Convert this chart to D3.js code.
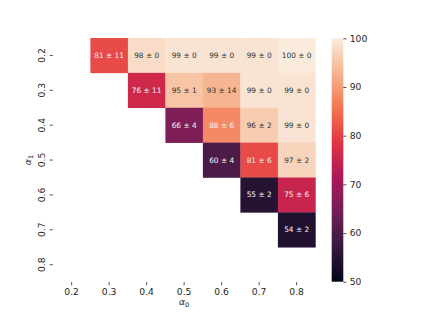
<!DOCTYPE html>
<html lang="en">
<head>
<meta charset="utf-8">
<title>alpha heatmap</title>
<script src="https://cdn.jsdelivr.net/npm/d3@7"></script>
<style>
  body { margin: 0; background: #fff; }
  text { font-family: "DejaVu Sans", sans-serif; fill: #262626; }
</style>
</head>
<body>
<script>
var w = 423, h = 317;

// data
var alpha0 = ["0.2", "0.3", "0.4", "0.5", "0.6", "0.7", "0.8"];
var alpha1 = ["0.2", "0.3", "0.4", "0.5", "0.6", "0.7", "0.8"];
var means = [
  [null, 81, 98, 99, 99, 99, 100],
  [null, null, 76, 95, 93, 99, 99],
  [null, null, null, 66, 88, 96, 99],
  [null, null, null, null, 60, 81, 97],
  [null, null, null, null, null, 55, 75],
  [null, null, null, null, null, null, 54],
  [null, null, null, null, null, null, null]
];
var stds = [
  [null, 11, 0, 0, 0, 0, 0],
  [null, null, 11, 1, 14, 0, 0],
  [null, null, null, 4, 6, 2, 0],
  [null, null, null, null, 4, 6, 2],
  [null, null, null, null, null, 2, 6],
  [null, null, null, null, null, null, 2],
  [null, null, null, null, null, null, null]
];
var cbTicks = [50, 60, 70, 80, 90, 100];

// rocket-ish colormap
var rocketStops = ["#03051a", "#35193e", "#701f57", "#ad1759", "#e13342", "#f37651", "#f6b48f", "#faebdd"];
var color = d3.scaleLinear()
  .domain(rocketStops.map(function(d, i) { return 50 + 50 * i / (rocketStops.length - 1); }))
  .range(rocketStops)
  .interpolate(d3.interpolateRgb)
  .clamp(true);

var mLeft = 52.9, mRight = 315.4, mTop = 38, mBottom = 282.1;

var x = d3.scaleBand().domain(alpha0).range([mLeft, mRight]);
var y = d3.scaleBand().domain(alpha1).range([mTop, mBottom]);

var svg = d3.select("body").append("svg")
  .attr("width", w)
  .attr("height", h);

var cells = [];
means.forEach(function(row, i) {
  row.forEach(function(v, j) {
    if (v !== null) cells.push({ r: alpha1[i], c: alpha0[j], v: v, s: stds[i][j] });
  });
});

svg.selectAll("rect.cell")
  .data(cells)
  .enter()
  .append("rect")
  .attr("class", "cell")
  .attr("x", function(d) { return x(d.c); })
  .attr("y", function(d) { return y(d.r); })
  .attr("width", x.bandwidth() + 0.3)
  .attr("height", y.bandwidth() + 0.3)
  .attr("fill", function(d) { return color(d.v); });

function lum(c) {
  var rgb = d3.rgb(c);
  var f = function(u) { u = u / 255; return u <= 0.03928 ? u / 12.92 : Math.pow((u + 0.055) / 1.055, 2.4); };
  return 0.2126 * f(rgb.r) + 0.7152 * f(rgb.g) + 0.0722 * f(rgb.b);
}

svg.selectAll("text.annot")
  .data(cells)
  .enter()
  .append("text")
  .attr("class", "annot")
  .attr("x", function(d) { return x(d.c) + x.bandwidth() / 2; })
  .attr("y", function(d) { return y(d.r) + y.bandwidth() / 2; })
  .attr("text-anchor", "middle")
  .attr("dominant-baseline", "central")
  .style("font-size", "7.4px")
  .style("fill", function(d) { return lum(color(d.v)) > 0.408 ? "#333333" : "#f4f4f4"; })
  .text(function(d) { return d.v + " \u00b1 " + d.s; });

// x axis
var xAxis = d3.axisBottom(x).tickSize(3.2).tickPadding(3.2);
var gx = svg.append("g").attr("transform", "translate(0," + mBottom + ")").call(xAxis);
gx.select(".domain").remove();
gx.selectAll("line").attr("stroke", "#262626").attr("stroke-width", 0.8);
gx.selectAll("text").style("font-size", "9.2px").style("font-family", "DejaVu Sans").attr("fill", "#262626");

// y axis
var yAxis = d3.axisLeft(y).tickSize(3.2).tickPadding(3.2);
var gy = svg.append("g").attr("transform", "translate(" + mLeft + ",0)").call(yAxis);
gy.select(".domain").remove();
gy.selectAll("line").attr("stroke", "#262626").attr("stroke-width", 0.8);
gy.selectAll("text")
  .style("font-size", "9.2px").style("font-family", "DejaVu Sans").attr("fill", "#262626")
  .attr("x", null).attr("dy", null)
  .attr("text-anchor", "middle")
  .attr("dominant-baseline", "central")
  .attr("transform", "translate(-11,0) rotate(-90)");

// axis labels
var xl = svg.append("text")
  .attr("x", (mLeft + mRight) / 2)
  .attr("y", 305)
  .attr("text-anchor", "middle")
  .style("font-size", "9.2px");
xl.append("tspan").style("font-style", "italic").text("\u03b1");
xl.append("tspan").attr("dy", 1.6).style("font-size", "6.5px").text("0");

var yl = svg.append("text")
  .attr("transform", "translate(31," + ((mTop + mBottom) / 2) + ") rotate(-90)")
  .attr("text-anchor", "middle")
  .style("font-size", "9.2px");
yl.append("tspan").style("font-style", "italic").text("\u03b1");
yl.append("tspan").attr("dy", 1.6).style("font-size", "6.5px").text("1");

// colorbar
var cbX = 331.7, cbW = 11.6, cbTop = 38.3, cbBottom = 281.7;
var cbScale = d3.scaleLinear().domain([50, 100]).range([cbBottom, cbTop]);
var defs = svg.append("defs");
var grad = defs.append("linearGradient")
  .attr("id", "cbgrad")
  .attr("x1", 0).attr("y1", 1).attr("x2", 0).attr("y2", 0);
grad.selectAll("stop")
  .data(d3.range(0, 1.0001, 0.02))
  .enter()
  .append("stop")
  .attr("offset", function(d) { return d; })
  .attr("stop-color", function(d) { return color(50 + 50 * d); });

svg.append("rect")
  .attr("x", cbX)
  .attr("y", cbTop)
  .attr("width", cbW)
  .attr("height", cbBottom - cbTop)
  .attr("fill", "url(#cbgrad)");

var cbAxis = d3.axisRight(cbScale).tickValues(cbTicks).tickSize(3.2).tickPadding(3.2);
var gc = svg.append("g").attr("transform", "translate(" + (cbX + cbW) + ",0)").call(cbAxis);
gc.select(".domain").remove();
gc.selectAll("line").attr("stroke", "#262626").attr("stroke-width", 0.8);
gc.selectAll("text").style("font-size", "9.2px").style("font-family", "DejaVu Sans").attr("fill", "#262626");
</script>
</body>
</html>
